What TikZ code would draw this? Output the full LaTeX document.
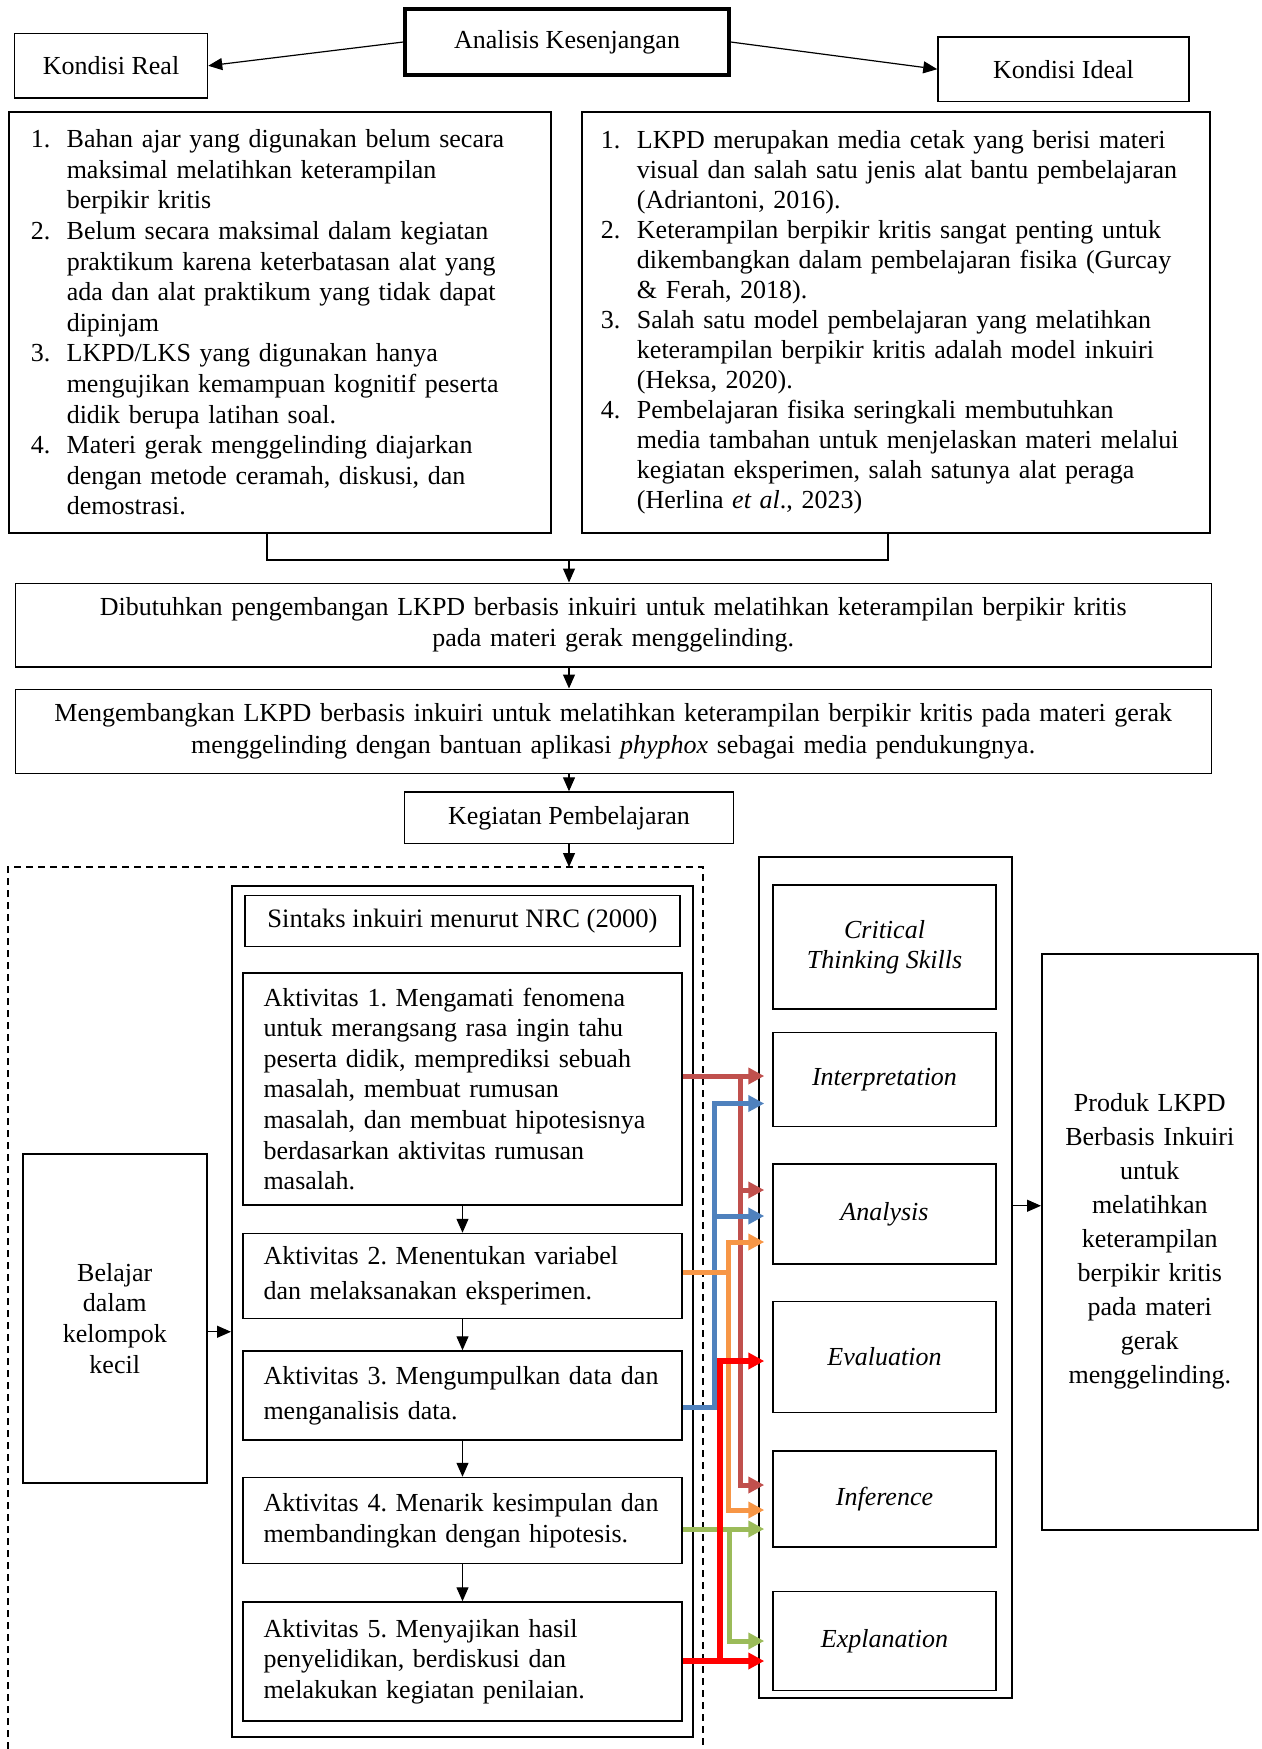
\documentclass[tikz,border=0pt]{standalone}
\usepackage{fontspec}
\setmainfont{Liberation Serif}
\usetikzlibrary{positioning,arrows.meta}
\definecolor{LineBrown}{RGB}{192,80,77}
\definecolor{LineBlue}{RGB}{79,129,189}
\definecolor{LineOrange}{RGB}{247,150,70}
\definecolor{LineGreen}{RGB}{155,187,89}
\definecolor{LineRed}{RGB}{255,0,0}
\frenchspacing
\hyphenpenalty=10000
\newcommand{\listnum}[1]{\makebox[18pt][l]{#1}}
\newcommand{\listgap}{\hspace*{18pt}}
\tikzset{
  flow/.style={-{Triangle[length=7pt,width=6pt]},line width=0.6pt},
  box/.style={draw,line width=0.75pt,align=center,inner sep=4pt,
    font=\fontsize{13}{15.3}\selectfont},
  listbox/.style={box,align=left,inner xsep=11pt,anchor=north west},
  stepbox/.style={box,align=left,text width=199pt,inner xsep=10.25pt},
  skillbox/.style={box,minimum width=111.5pt,font=\fontsize{13}{15}\selectfont\itshape},
  groupline/.style={line width=0.75pt,dash pattern=on 3.5pt off 2.5pt},
  colorflow/.style={-{Triangle[length=8pt,width=8pt]},line width=2.5pt,shorten >=4pt},
  brownflow/.style={colorflow,color=LineBrown},
  blueflow/.style={colorflow,color=LineBlue},
  orangeflow/.style={colorflow,color=LineOrange},
  greenflow/.style={colorflow,color=LineGreen},
  redflow/.style={colorflow,color=LineRed,line width=2.9pt}
}

\begin{document}
\begin{tikzpicture}[x=1pt,y=1pt]
  \useasboundingbox (0,0) rectangle (631,-874.5);
  \node[box,minimum width=162pt,minimum height=33pt,line width=1.6pt] (gap) at (283.5,-21) {Analisis Kesenjangan};
  \node[box,minimum width=96.5pt,minimum height=32.25pt] (real) at (55.5,-32.9) {Kondisi Real};
  \node[box,minimum width=125.5pt,minimum height=32.25pt] (ideal) at (531.75,-34.6) {Kondisi Ideal};
  \draw[flow] (gap.west) -- (real.east);
  \draw[flow] (gap.east) -- (ideal.west);

  \node[listbox,text width=249pt,minimum height=210.25pt] (listreal) at (4,-55.75) {
    \listnum{1.}Bahan ajar yang digunakan belum secara\\
    \listgap maksimal melatihkan keterampilan\\
    \listgap berpikir kritis\\
    \listnum{2.}Belum secara maksimal dalam kegiatan\\
    \listgap praktikum karena keterbatasan alat yang\\
    \listgap ada dan alat praktikum yang tidak dapat\\
    \listgap dipinjam\\
    \listnum{3.}LKPD/LKS yang digunakan hanya\\
    \listgap mengujikan kemampuan kognitif peserta\\
    \listgap didik berupa latihan soal.\\
    \listnum{4.}Materi gerak menggelinding diajarkan\\
    \listgap dengan metode ceramah, diskusi, dan\\
    \listgap demostrasi.};
  \node[listbox,text width=295pt,inner xsep=9.6pt,minimum height=210.25pt,
    font=\fontsize{13}{15}\selectfont] (listideal) at (290.5,-55.75) {
    \listnum{1.}LKPD merupakan media cetak yang berisi materi\\
    \listgap visual dan salah satu jenis alat bantu pembelajaran\\
    \listgap (Adriantoni, 2016).\\
    \listnum{2.}Keterampilan berpikir kritis sangat penting untuk\\
    \listgap dikembangkan dalam pembelajaran fisika (Gurcay\\
    \listgap \& Ferah, 2018).\\
    \listnum{3.}Salah satu model pembelajaran yang melatihkan\\
    \listgap keterampilan berpikir kritis adalah model inkuiri\\
    \listgap (Heksa, 2020).\\
    \listnum{4.}Pembelajaran fisika seringkali membutuhkan\\
    \listgap media tambahan untuk menjelaskan materi melalui\\
    \listgap kegiatan eksperimen, salah satunya alat peraga\\
    \listgap (Herlina \textit{et al}., 2023)};

  \coordinate (merge) at (284.5,-280);
  \coordinate (mergeleft) at (133.5,-266);
  \coordinate (mergeright) at (444,-266);
  \draw[line width=0.6pt] (mergeleft) |- (merge) -| (mergeright);

  \node[box,text width=590pt,minimum height=41.75pt,anchor=north west,
    font=\fontsize{13}{15.6}\selectfont] (butuh) at (7.25,-291.25) {
    Dibutuhkan pengembangan LKPD berbasis inkuiri untuk melatihkan keterampilan berpikir kritis\\
    pada materi gerak menggelinding.};
  \node[box,text width=590pt,minimum height=42pt,below=10.5pt of butuh,
    font=\fontsize{13}{15.6}\selectfont] (kembang) {
    Mengembangkan LKPD berbasis inkuiri untuk melatihkan keterampilan berpikir kritis pada materi gerak\\
    menggelinding dengan bantuan aplikasi \textit{phyphox} sebagai media pendukungnya.};
  \node[box,minimum width=164.5pt,minimum height=25.75pt] (kegiatan) at (284.5,-408.9) {Kegiatan Pembelajaran};
  \draw[flow] (merge) -- (merge |- butuh.north);
  \draw[flow] (merge |- butuh.south) -- (merge |- kembang.north);
  \draw[flow] (merge |- kembang.south) -- (kegiatan.north);

  \coordinate (grouptop) at (284.5,-433.5);
  \draw[groupline] (4,-874.5) |- (grouptop) -| (351.5,-874.5);
  \draw[flow] (kegiatan.south) -- (grouptop);

  \node[draw,line width=0.75pt,minimum width=230.5pt,minimum height=425.5pt,anchor=north west] (steps) at (115.5,-442.5) {};
  \node[stepbox,minimum height=116pt] (akt1) at (231.25,-544.5) {
    Aktivitas 1. Mengamati fenomena\\
    untuk merangsang rasa ingin tahu\\
    peserta didik, memprediksi sebuah\\
    masalah, membuat rumusan\\
    masalah, dan membuat hipotesisnya\\
    berdasarkan aktivitas rumusan\\
    masalah.};
  \node[box,minimum width=217.5pt,minimum height=25.5pt,above=12.5pt of akt1,
    font=\fontsize{13.3}{15.3}\selectfont] (sintaks) {Sintaks inkuiri menurut NRC (2000)};
  \node[stepbox,minimum height=42.5pt,below=13.5pt of akt1,
    font=\fontsize{13}{17.3}\selectfont] (akt2) {
    Aktivitas 2. Menentukan variabel\\
    dan melaksanakan eksperimen.};
  \node[stepbox,minimum height=44.5pt,below=15.5pt of akt2,
    font=\fontsize{13}{17.3}\selectfont] (akt3) {
    Aktivitas 3. Mengumpulkan data dan\\
    menganalisis data.};
  \node[stepbox,minimum height=43pt,below=18pt of akt3] (akt4) {
    Aktivitas 4. Menarik kesimpulan dan\\
    membandingkan dengan hipotesis.};
  \node[stepbox,minimum height=59.5pt,below=18.5pt of akt4] (akt5) {
    Aktivitas 5. Menyajikan hasil\\
    penyelidikan, berdiskusi dan\\
    melakukan kegiatan penilaian.};
  \draw[flow] (akt1) -- (akt2);
  \draw[flow] (akt2) -- (akt3);
  \draw[flow] (akt3) -- (akt4);
  \draw[flow] (akt4) -- (akt5);

  \node[box,minimum width=92pt,minimum height=164.5pt,anchor=north west] (belajar) at (11,-576.5) {
    Belajar\\dalam\\kelompok\\kecil};
  \coordinate (learnout) at ([yshift=-6.75pt]belajar.east);
  \draw[flow] (learnout) -- (learnout -| steps.west);

  \node[draw,line width=0.75pt,minimum width=126.5pt,minimum height=420.5pt,anchor=north west] (skills) at (379,-428) {};
  \node[skillbox,minimum height=62pt] (cts) at (442.25,-473.5) {Critical\\Thinking Skills};
  \node[skillbox,minimum height=47pt,below=11pt of cts] (interp) {Interpretation};
  \node[skillbox,minimum height=50pt,below=18pt of interp] (ana) {Analysis};
  \node[skillbox,minimum height=55.5pt,below=18pt of ana] (eval) {Evaluation};
  \node[skillbox,minimum height=48pt,below=18.5pt of eval] (infer) {Inference};
  \node[skillbox,minimum height=49.5pt,below=21.5pt of infer] (explan) {Explanation};

  \node[box,text width=100pt,minimum height=288pt,anchor=north west,
    font=\fontsize{13}{17}\selectfont] (produk) at (520.5,-476.5) {
    Produk LKPD\\Berbasis Inkuiri\\untuk\\melatihkan\\keterampilan\\berpikir kritis\\pada materi\\gerak\\menggelinding.\\[5pt]};
  \coordinate (skillout) at ([yshift=35.75pt]skills.east);
  \draw[flow] (skillout) -- (skillout -| produk.west);

  \coordinate (railbrown) at (370.4,-538);
  \draw[brownflow] (akt1.east |- railbrown) -- (interp.west |- railbrown);
  \draw[brownflow] (railbrown) |- ([yshift=12pt]ana.west);
  \draw[brownflow] (railbrown) |- ([yshift=7pt]infer.west);

  \coordinate (railblue) at (357,-703.5);
  \draw[blueflow] (akt3.east |- railblue) -- (railblue) |- ([yshift=-12pt]interp.west);
  \draw[blueflow] (railblue) |- ([yshift=-1pt]ana.west);

  \coordinate (railorange) at (364,-636);
  \draw[orangeflow] (akt2.east |- railorange) -- (railorange) |- ([yshift=-14pt]ana.west);
  \draw[orangeflow] (railorange) |- ([yshift=-5.5pt]infer.west);

  \coordinate (railgreen) at (364.5,-764.5);
  \draw[greenflow] (akt4.east |- railgreen) -- (infer.west |- railgreen);
  \draw[greenflow] (railgreen) |- (explan.west);

  \coordinate (railred) at (360,-830.5);
  \draw[redflow] (akt5.east |- railred) -- (explan.west |- railred);
  \draw[redflow] (railred) |- ([yshift=-2pt]eval.west);
\end{tikzpicture}
\end{document}
